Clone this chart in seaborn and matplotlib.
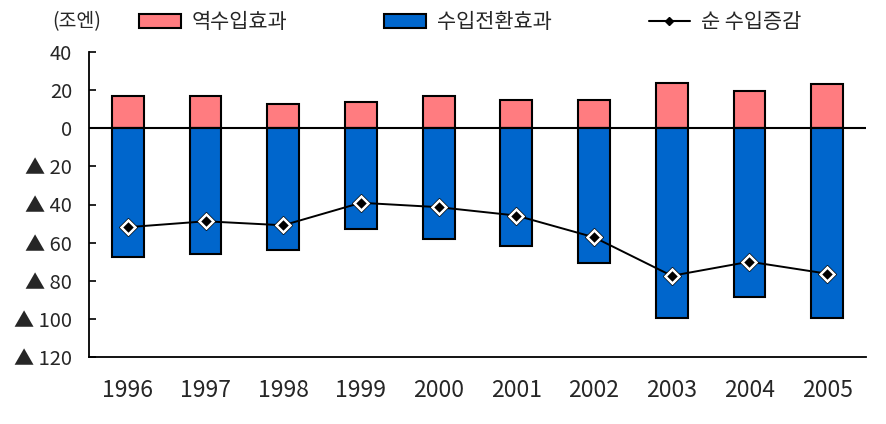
import matplotlib
matplotlib.use("Agg")
import matplotlib.pyplot as plt
import seaborn as sns
import pandas as pd
import numpy as np
from matplotlib.patches import Patch
from matplotlib.lines import Line2D

years = ["1996", "1997", "1998", "1999", "2000", "2001", "2002", "2003", "2004", "2005"]
reverse_import = [17, 17, 12.5, 14, 17, 15, 15, 23.5, 19.3, 23.3]
import_switch = [-67.5, -66, -63.7, -53, -58.2, -61.8, -70.9, -99.8, -88.6, -99.8]
net_change = [-51.9, -48.8, -50.9, -39.1, -41.4, -45.8, -57.2, -77.4, -70, -76.3]
y_ticks = [40, 20, 0, -20, -40, -60, -80, -100, -120]
legend_labels = ["역수입효과", "수입전환효과", "순 수입증감"]
unit_label = "(조엔)"

PINK = "#FF7C80"
BLUE = "#0066CC"

sns.set_style("white")
plt.rcParams["font.family"] = ["Noto Sans CJK KR", "DejaVu Sans"]

df = pd.DataFrame({"year": years, "pos": reverse_import, "neg": import_switch, "net": net_change})

fig = plt.figure(figsize=(8.86, 4.24), dpi=100)
ax = fig.add_axes([89 / 886, 1 - 357 / 424, (866 - 89) / 886, (357 - 52) / 424])

sns.barplot(data=df, x="year", y="pos", color=PINK, saturation=1, width=0.41,
            edgecolor="black", linewidth=1.5, ax=ax, zorder=2)
sns.barplot(data=df, x="year", y="neg", color=BLUE, saturation=1, width=0.41,
            edgecolor="black", linewidth=1.5, ax=ax, zorder=2)
ax.axhline(0, color="black", lw=1.5, zorder=3)
sns.lineplot(data=df, x="year", y="net", color="black", lw=1.4, marker="D",
             markersize=9.5, markerfacecolor="black", markeredgecolor="black",
             ax=ax, zorder=4, sort=False)
sns.lineplot(data=df, x="year", y="net", color="black", lw=0, marker="D",
             markersize=7, markerfacecolor="black", markeredgecolor="white",
             markeredgewidth=1.8, ax=ax, zorder=5, sort=False)

ax.set_xlim(-0.5, 9.5)
ax.set_ylim(-120, 40)
ax.set_yticks(y_ticks)
ax.set_yticklabels([("▲ %d" % -v) if v < 0 else "%d" % v for v in y_ticks],
                   fontsize=14.5, fontweight="medium")
ax.set_xticks(range(len(years)))
ax.set_xticklabels(years, fontsize=16.5)
ax.set_xticks(np.arange(-0.5, 10, 1), minor=True)
ax.tick_params(axis="x", which="major", length=0, pad=16)
ax.tick_params(axis="x", which="minor", direction="in", length=6, width=1.2, color="black")
ax.tick_params(axis="y", direction="in", length=5, width=1.2, color="black", pad=12, left=True)
ax.set_xlabel("")
ax.set_ylabel("")
for s in ["top", "right"]:
    ax.spines[s].set_visible(False)
for s in ["left", "bottom"]:
    ax.spines[s].set_color("black")
    ax.spines[s].set_linewidth(1.3)
ax.grid(False)

handles = [
    Patch(facecolor=PINK, edgecolor="black", linewidth=1.5),
    Patch(facecolor=BLUE, edgecolor="black", linewidth=1.5),
    Line2D([], [], color="black", lw=1.5, marker="D", markersize=4,
           markerfacecolor="black", markeredgecolor="black"),
]
fig.legend(handles, legend_labels, ncol=3, loc="center left",
           bbox_to_anchor=(139 / 886, 1 - 22 / 424), frameon=False,
           fontsize=15, handlelength=2.0, handleheight=0.68,
           handletextpad=0.53, columnspacing=4.65, borderpad=0, borderaxespad=0)
fig.text(52 / 886, 1 - 22 / 424, unit_label, ha="left", va="center", fontsize=14)

fig.savefig("out.png", dpi=100)
